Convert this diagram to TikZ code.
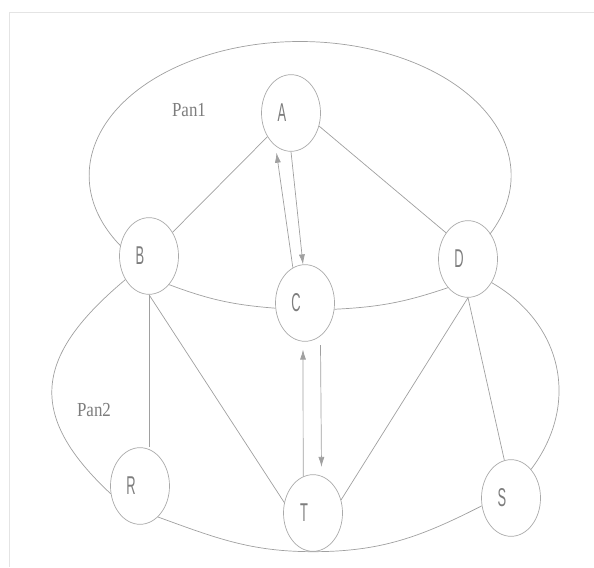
\documentclass[tikz,border=0pt]{standalone}
\usepackage{fontspec}
\usepackage{tikz}
\usetikzlibrary{shapes.geometric, arrows.meta, positioning}
\usepackage{xcolor}

\newfontfamily\vertexfont{Liberation Sans}[FakeStretch=0.5]
\newfontfamily\panfont{Liberation Serif}[FakeStretch=0.85]
\definecolor{edgegray}{RGB}{160,160,160}
\definecolor{nodegray}{RGB}{170,170,170}
\definecolor{textgray}{RGB}{125,125,125}
\definecolor{framegray}{RGB}{228,228,228}
% Huruf simpul sedikit digeser ke kiri
\newcommand{\vtxlab}[1]{\makebox[0pt]{#1}\rule{0.54cm}{0pt}}

\begin{document}
\begin{tikzpicture}[
    node distance=1cm and 1cm, on grid,
    % Gaya untuk simpul (elips)
    vertex/.style={ellipse, draw=nodegray, line width=0.6pt, minimum width=1.77cm, minimum height=2.3cm, inner sep=0pt, text=textgray, font=\vertexfont\fontsize{22}{26}\selectfont},
    % Gaya untuk nama wilayah
    region/.style={text=textgray, font=\panfont\fontsize{17}{20}\selectfont},
    % Gaya untuk garis dan panah
    link/.style={draw=edgegray, line width=0.6pt},
    arrow/.style={link, -{Latex[length=3mm, width=1.8mm]}}
]

% Bingkai tipis
\useasboundingbox (0,0) rectangle (17.82,17.01);
\draw[framegray, line width=0.6pt] (0.27,0) |- (17.82,16.65);

% Menempatkan simpul
\node (C) [vertex] at (9.15,7.92) {\vtxlab{C}};
\node (A) [vertex, above left=5.7cm and 0.42cm of C] {\vtxlab{A}};
\node (B) [vertex, above left=1.41cm and 4.68cm of C] {\vtxlab{B}};
\node (D) [vertex, above right=1.32cm and 4.89cm of C] {\vtxlab{D}};
\node (T) [vertex, below right=6.3cm and 0.24cm of C] {\vtxlab{T}};
\node (R) [vertex, below left=5.49cm and 4.95cm of C] {\vtxlab{R}};
\node (S) [vertex, below right=5.85cm and 6.18cm of C] {\vtxlab{S}};

\node (pan1) [region, above left=0.1cm and 3.06cm of A] {Pan1};
\node (pan2) [region, above left=2.28cm and 1.38cm of R] {Pan2};

% Garis lurus antar simpul
\draw [link] (A) -- (B);
\draw [link] (A.-25) -- (D.130);
\draw [link] (B.south) -- (B.south |- R.north);
\draw [link] (B.south) -- (T.160);
\draw [link] (D.south) -- (T.25);
\draw [link] (D.south) -- (S.100);

% Garis lengkung
\draw [link] (B.-55) to[bend right=8] (C.190);
\draw [link] (C.-12) to[bend right=8] (D.235);
\draw [link] (R.300) to[out=-20, in=180] (T.south) to[out=0, in=207] (S.195);
\draw [link] (B.225) to[out=220, in=137, looseness=1.4] (R.195);
\draw [link] (D.315) to[out=-30, in=53, looseness=1.1] (S.55);
\draw [link] (B.160) arc[start angle=211.5, end angle=-26, x radius=6.33cm, y radius=4.02cm];

% Panah bolak-balik A-C dan C-T
\draw [arrow, shorten >=0.2cm] (C.109) -- (A.245);
\draw [arrow] (A.270) -- (C.93);
\draw [arrow, shorten >=0.24cm] (T.105) -- (C.267);
\draw [arrow, shorten <=0.27cm, shorten >=0.27cm] (C.295) -- (T.77);

\end{tikzpicture}
\end{document}
